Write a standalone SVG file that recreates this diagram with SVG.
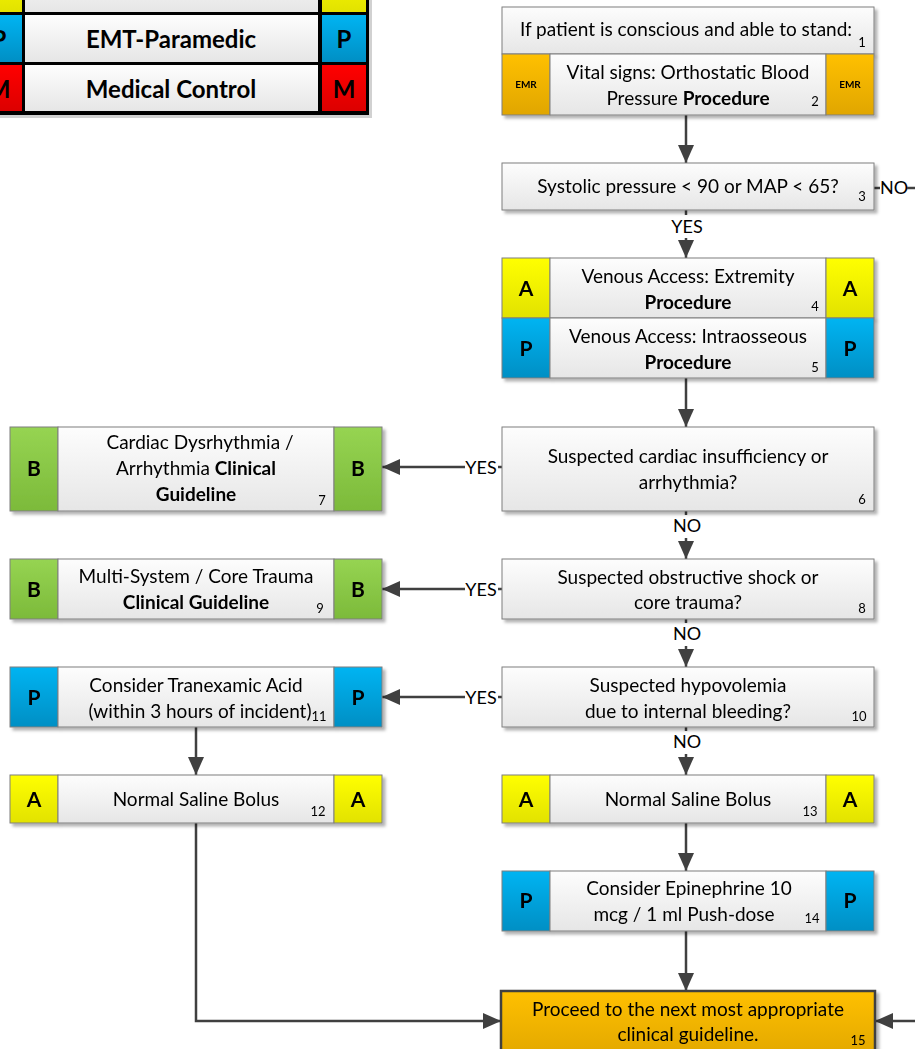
<svg xmlns="http://www.w3.org/2000/svg" width="915" height="1049" viewBox="0 0 915 1049">
  <defs>
    <linearGradient id="gBody" x1="0" y1="0" x2="0" y2="1">
      <stop offset="0" stop-color="#FDFDFD"/>
      <stop offset="1" stop-color="#E6E6E6"/>
    </linearGradient>
    <linearGradient id="gA" x1="0" y1="0" x2="0" y2="1">
      <stop offset="0" stop-color="#FFFF00"/>
      <stop offset="1" stop-color="#E2E200"/>
    </linearGradient>
    <linearGradient id="gP" x1="0" y1="0" x2="0" y2="1">
      <stop offset="0" stop-color="#00B4F2"/>
      <stop offset="1" stop-color="#008FC4"/>
    </linearGradient>
    <linearGradient id="gB" x1="0" y1="0" x2="0" y2="1">
      <stop offset="0" stop-color="#96D452"/>
      <stop offset="1" stop-color="#7CBA3A"/>
    </linearGradient>
    <linearGradient id="gM" x1="0" y1="0" x2="0" y2="1">
      <stop offset="0" stop-color="#FF0000"/>
      <stop offset="1" stop-color="#DC0000"/>
    </linearGradient>
    <linearGradient id="gE" x1="0" y1="0" x2="0" y2="1">
      <stop offset="0" stop-color="#FFC000"/>
      <stop offset="1" stop-color="#E0A600"/>
    </linearGradient>
    <filter id="shadow" x="-5%" y="-10%" width="115%" height="130%">
      <feDropShadow dx="3" dy="3" stdDeviation="1.5" flood-color="#000" flood-opacity="0.3"/>
    </filter>
    <marker id="arrow" viewBox="0 0 18 16" refX="18" refY="8" markerWidth="18" markerHeight="16" markerUnits="userSpaceOnUse" orient="auto">
      <path d="M0,0 L18,8 L0,16 Z" fill="#404040"/>
    </marker>
    <style>
      .box { fill: url(#gBody); stroke: #7F7F7F; stroke-width: 1; }
      .bA { fill: url(#gA); stroke: #7F7F7F; stroke-width: 1; }
      .bP { fill: url(#gP); stroke: #7F7F7F; stroke-width: 1; }
      .bB { fill: url(#gB); stroke: #7F7F7F; stroke-width: 1; }
      .bE { fill: url(#gE); stroke: #7F7F7F; stroke-width: 1; }
      .final { fill: url(#gE); stroke: #404040; stroke-width: 2.5; }
      .node { filter: url(#shadow); }
      text { font-family: Lato, "Liberation Sans", sans-serif; fill: #000; }
      .t { font-size: 19px; text-anchor: middle; }
      .b { font-weight: bold; }
      .n { font-size: 13px; text-anchor: middle; }
      .badge { font-size: 21px; font-weight: bold; text-anchor: middle; }
      .emr { font-size: 10px; font-weight: bold; text-anchor: middle; }
      .lg { font-size: 24px; font-weight: bold; text-anchor: middle; }
      .conn { stroke: #404040; stroke-width: 2.5; fill: none; }
      .arr { marker-end: url(#arrow); }
      .lbl { font-size: 18px; text-anchor: middle; }
    </style>
  </defs>

  <!-- Provider level legend (partly outside the page) -->
  <g id="legend">
    <rect x="-40" y="-50" width="412" height="168" fill="#000" opacity="0.18"/>
    <rect x="-40" y="-50" width="409" height="165" fill="#000"/>
    <rect x="-23" y="-40" width="45" height="52" fill="url(#gA)"/>
    <rect x="25" y="-40" width="293" height="52" fill="url(#gBody)"/>
    <rect x="322" y="-40" width="44" height="52" fill="url(#gA)"/>
    <rect x="-23" y="15" width="45" height="47" fill="url(#gP)"/>
    <rect x="25" y="15" width="293" height="47" fill="url(#gBody)"/>
    <rect x="322" y="15" width="44" height="47" fill="url(#gP)"/>
    <rect x="-23" y="65" width="45" height="46" fill="url(#gM)"/>
    <rect x="25" y="65" width="293" height="46" fill="url(#gBody)"/>
    <rect x="322" y="65" width="44" height="46" fill="url(#gM)"/>
    <text class="lg" x="-1" y="48">P</text>
    <text class="lg" x="171" y="48">EMT-Paramedic</text>
    <text class="lg" x="344" y="48">P</text>
    <text class="lg" x="-1" y="98">M</text>
    <text class="lg" x="171" y="98">Medical Control</text>
    <text class="lg" x="344" y="98">M</text>
  </g>

  <!-- Connectors -->
  <g id="connectors">
    <path class="conn arr" d="M686,115 V163"/>
    <path class="conn" d="M874,188 H880"/>
    <text class="lbl" x="894" y="194">NO</text>
    <path class="conn" d="M907,188 H915"/>
    <path class="conn" d="M686,210 V215"/>
    <text class="lbl" x="687" y="233">YES</text>
    <path class="conn arr" d="M686,238 V258"/>
    <path class="conn arr" d="M686,378 V427"/>

    <path class="conn" d="M502,467 H498"/>
    <text class="lbl" x="481" y="474">YES</text>
    <path class="conn arr" d="M465,467 H382"/>
    <path class="conn" d="M686,511 V515"/>
    <text class="lbl" x="687" y="532">NO</text>
    <path class="conn arr" d="M686,538 V559"/>

    <path class="conn" d="M502,589 H498"/>
    <text class="lbl" x="481" y="596">YES</text>
    <path class="conn arr" d="M465,589 H382"/>
    <path class="conn" d="M686,619 V623"/>
    <text class="lbl" x="687" y="640">NO</text>
    <path class="conn arr" d="M686,646 V667"/>

    <path class="conn" d="M502,697 H498"/>
    <text class="lbl" x="481" y="704">YES</text>
    <path class="conn arr" d="M465,697 H382"/>
    <path class="conn" d="M686,727 V731"/>
    <text class="lbl" x="687" y="748">NO</text>
    <path class="conn arr" d="M686,754 V775"/>

    <path class="conn arr" d="M196,727 V775"/>
    <path class="conn arr" d="M686,823 V871"/>
    <path class="conn arr" d="M686,931 V991"/>
    <path class="conn arr" d="M196,823 V1021 H501"/>
    <path class="conn arr" d="M915,1021 H875"/>
  </g>

  <!-- Nodes -->
  <g id="n1" class="node">
    <rect class="box" x="502" y="7" width="372" height="47"/>
    <text class="t" x="686" y="36">If patient is conscious and able to stand:</text>
    <text class="n" x="862" y="47">1</text>
  </g>

  <g id="n2" class="node">
    <rect class="bE" x="502" y="54" width="48" height="61"/>
    <rect class="box" x="550" y="54" width="276" height="61"/>
    <rect class="bE" x="826" y="54" width="48" height="61"/>
    <text class="emr" x="526" y="88">EMR</text>
    <text class="emr" x="850" y="88">EMR</text>
    <text class="t" x="688" y="79">Vital signs: Orthostatic Blood</text>
    <text class="t" x="688" y="105">Pressure <tspan class="b">Procedure</tspan></text>
    <text class="n" x="815" y="106">2</text>
  </g>

  <g id="n3" class="node">
    <rect class="box" x="502" y="163" width="372" height="47"/>
    <text class="t" x="688" y="193">Systolic pressure &lt; 90 or MAP &lt; 65?</text>
    <text class="n" x="862" y="201">3</text>
  </g>

  <g id="n4" class="node">
    <rect class="bA" x="502" y="258" width="48" height="60"/>
    <rect class="box" x="550" y="258" width="276" height="60"/>
    <rect class="bA" x="826" y="258" width="48" height="60"/>
    <text class="badge" x="526" y="296">A</text>
    <text class="badge" x="850" y="296">A</text>
    <text class="t" x="688" y="283">Venous Access: Extremity</text>
    <text class="t b" x="688" y="309">Procedure</text>
    <text class="n" x="815" y="311">4</text>
  </g>

  <g id="n5" class="node">
    <rect class="bP" x="502" y="318" width="48" height="60"/>
    <rect class="box" x="550" y="318" width="276" height="60"/>
    <rect class="bP" x="826" y="318" width="48" height="60"/>
    <text class="badge" x="526" y="356">P</text>
    <text class="badge" x="850" y="356">P</text>
    <text class="t" x="688" y="343">Venous Access: Intraosseous</text>
    <text class="t b" x="688" y="369">Procedure</text>
    <text class="n" x="815" y="372">5</text>
  </g>

  <g id="n6" class="node">
    <rect class="box" x="502" y="427" width="372" height="84"/>
    <text class="t" x="688" y="463">Suspected cardiac insufficiency or</text>
    <text class="t" x="688" y="489">arrhythmia?</text>
    <text class="n" x="862" y="504">6</text>
  </g>

  <g id="n7" class="node">
    <rect class="bB" x="10" y="427" width="48" height="84"/>
    <rect class="box" x="58" y="427" width="276" height="84"/>
    <rect class="bB" x="334" y="427" width="48" height="84"/>
    <text class="badge" x="34" y="476">B</text>
    <text class="badge" x="358" y="476">B</text>
    <text class="t" x="200" y="449">Cardiac Dysrhythmia /</text>
    <text class="t" x="196" y="475">Arrhythmia <tspan class="b">Clinical</tspan></text>
    <text class="t b" x="196" y="501">Guideline</text>
    <text class="n" x="322" y="505">7</text>
  </g>

  <g id="n8" class="node">
    <rect class="box" x="502" y="559" width="372" height="60"/>
    <text class="t" x="688" y="584">Suspected obstructive shock or</text>
    <text class="t" x="688" y="609">core trauma?</text>
    <text class="n" x="862" y="613">8</text>
  </g>

  <g id="n9" class="node">
    <rect class="bB" x="10" y="559" width="48" height="60"/>
    <rect class="box" x="58" y="559" width="276" height="60"/>
    <rect class="bB" x="334" y="559" width="48" height="60"/>
    <text class="badge" x="34" y="597">B</text>
    <text class="badge" x="358" y="597">B</text>
    <text class="t" x="196" y="583">Multi-System / Core Trauma</text>
    <text class="t b" x="196" y="609">Clinical Guideline</text>
    <text class="n" x="320" y="613">9</text>
  </g>

  <g id="n10" class="node">
    <rect class="box" x="502" y="667" width="372" height="60"/>
    <text class="t" x="688" y="692">Suspected hypovolemia</text>
    <text class="t" x="688" y="718">due to internal bleeding?</text>
    <text class="n" x="859" y="721">10</text>
  </g>

  <g id="n11" class="node">
    <rect class="bP" x="10" y="667" width="48" height="60"/>
    <rect class="box" x="58" y="667" width="276" height="60"/>
    <rect class="bP" x="334" y="667" width="48" height="60"/>
    <text class="badge" x="34" y="705">P</text>
    <text class="badge" x="358" y="705">P</text>
    <text class="t" x="196" y="692">Consider Tranexamic Acid</text>
    <text class="t" x="200" y="718">(within 3 hours of incident)</text>
    <text class="n" x="319" y="721">11</text>
  </g>

  <g id="n12" class="node">
    <rect class="bA" x="10" y="775" width="48" height="48"/>
    <rect class="box" x="58" y="775" width="276" height="48"/>
    <rect class="bA" x="334" y="775" width="48" height="48"/>
    <text class="badge" x="34" y="807">A</text>
    <text class="badge" x="358" y="807">A</text>
    <text class="t" x="196" y="806">Normal Saline Bolus</text>
    <text class="n" x="318" y="816">12</text>
  </g>

  <g id="n13" class="node">
    <rect class="bA" x="502" y="775" width="48" height="48"/>
    <rect class="box" x="550" y="775" width="276" height="48"/>
    <rect class="bA" x="826" y="775" width="48" height="48"/>
    <text class="badge" x="526" y="807">A</text>
    <text class="badge" x="850" y="807">A</text>
    <text class="t" x="688" y="806">Normal Saline Bolus</text>
    <text class="n" x="810" y="816">13</text>
  </g>

  <g id="n14" class="node">
    <rect class="bP" x="502" y="871" width="48" height="60"/>
    <rect class="box" x="550" y="871" width="276" height="60"/>
    <rect class="bP" x="826" y="871" width="48" height="60"/>
    <text class="badge" x="526" y="908">P</text>
    <text class="badge" x="850" y="908">P</text>
    <text class="t" x="689" y="895">Consider Epinephrine 10</text>
    <text class="t" x="684" y="921">mcg / 1 ml Push-dose</text>
    <text class="n" x="812" y="923">14</text>
  </g>

  <g id="n15" class="node">
    <rect class="final" x="501" y="991" width="374" height="70"/>
    <text class="t" x="688" y="1016">Proceed to the next most appropriate</text>
    <text class="t" x="688" y="1041">clinical guideline.</text>
    <text class="n" x="858" y="1045">15</text>
  </g>
</svg>
